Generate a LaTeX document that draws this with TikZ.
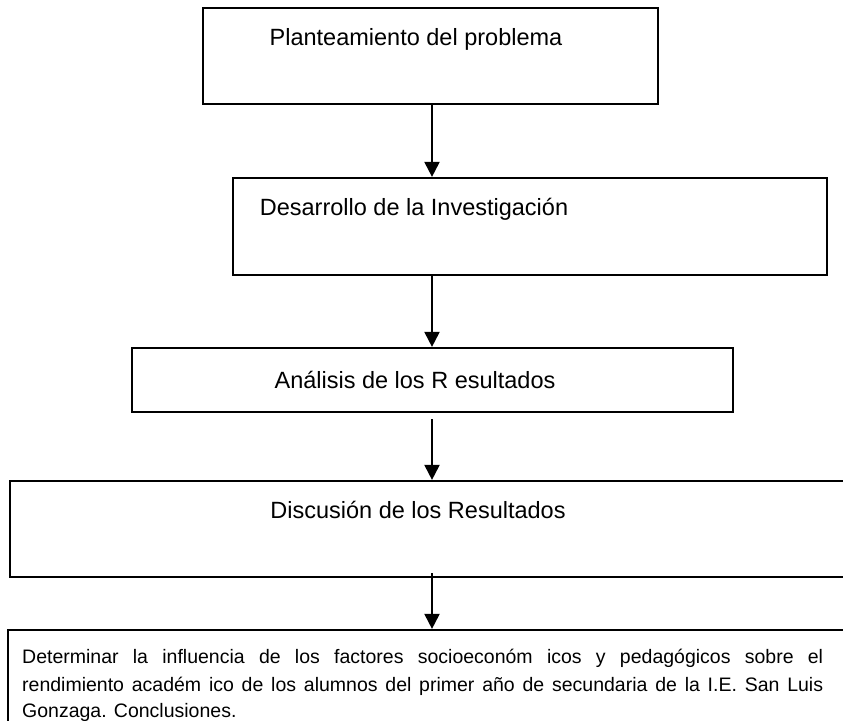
\documentclass[tikz,border=0pt]{standalone}
\usepackage{fontspec}
\setmainfont{Liberation Sans}
\usetikzlibrary{arrows.meta}
\begin{document}
\begin{tikzpicture}[x=1pt,y=-1pt,
  box/.style={draw=black,line width=2.2pt,rectangle,inner sep=0pt},
  head/.style={font=\fontsize{23.5}{28}\selectfont,anchor=base,inner sep=0pt},
  body/.style={font=\fontsize{19.5}{28}\selectfont,anchor=base west,inner sep=0pt},
  arr/.style={line width=2pt,-{Triangle[width=15pt,length=15pt]}}]
\useasboundingbox (0,0) rectangle (843,720);
\clip (0,0) rectangle (843,720);
\fill[white] (0,0) rectangle (843,720);
% boxes
\node[box,minimum width=455pt,minimum height=96pt] (b1) at (430.5,56) {};
\node[box,minimum width=594pt,minimum height=97pt] (b2) at (530,226.5) {};
\node[box,minimum width=601pt,minimum height=64pt] (b3) at (432.5,380) {};
\node[box,minimum width=842pt,minimum height=96pt] (b4) at (431,529) {};
\node[box,minimum width=844pt,minimum height=130pt] (b5) at (430,695) {};
% texts
\node[head] (t1) at (416,45) {Planteamiento del problema};
\node[head] (t2) at (414,215) {Desarrollo de la Investigación};
\node[head] (t3) at (415,388) {Análisis de los R esultados};
\node[head] (t4) at (418,518) {Discusión de los Resultados};
\node[body] (l1) at (22,663) {\makebox[801pt][s]{Determinar la influencia de los factores socioeconóm icos y pedagógicos sobre el}};
\node[body] (l2) at (22,691) {\makebox[801pt][s]{rendimiento académ ico de los alumnos del primer año de secundaria de la I.E. San Luis}};
\node[body] (l3) at (22,717) {Gonzaga. Conclusiones.};
% connectors
\coordinate (ax) at (432,0);
\coordinate (s3) at (432,419);
\coordinate (s4) at (432,573);
\draw[arr] (b1.south -| ax) -- (b2.north -| ax);
\draw[arr] (b2.south -| ax) -- (b3.north -| ax);
\draw[arr] (s3) -- (s3 |- b4.north);
\draw[arr] (s4) -- (s4 |- b5.north);
\end{tikzpicture}
\end{document}
